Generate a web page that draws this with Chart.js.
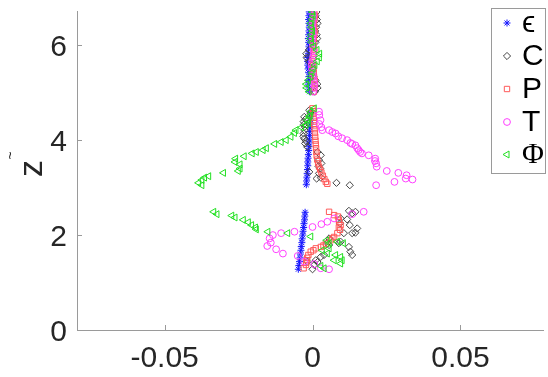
<!DOCTYPE html>
<html>
<head>
<meta charset="utf-8">
<script src="https://cdn.jsdelivr.net/npm/chart.js@4.4.1/dist/chart.umd.min.js"></script>
<style>
  html, body { margin: 0; padding: 0; background: #fff; overflow: hidden; }
  canvas { display: block; }
</style>
</head>
<body>
<canvas id="myChart" width="548" height="377"></canvas>
<script>
const xTicks = [-0.05, 0, 0.05];
const yTicks = [0, 2, 4, 6];
const seriesNames = ["\u03f5", "C", "P", "T", "\u03a6"];

// upper block: the five profiles share these heights
const zTop = [5.02, 5.10, 5.18, 5.26, 5.34, 5.42, 5.50, 5.58, 5.66, 5.74, 5.82,
              5.90, 5.98, 6.06, 6.14, 6.22, 6.30, 6.38, 6.46, 6.54, 6.62, 6.70];
const epsTop = [-0.0010, -0.0012, -0.0014, -0.0013, -0.0012, -0.0013, -0.0015, -0.0016, -0.0017, -0.0016, -0.0014,
                -0.0013, -0.0012, -0.0013, -0.0014, -0.0013, -0.0012, -0.0011, -0.0012, -0.0013, -0.0012, -0.0011];
const cTop = [0.0008, 0.0017, 0.0016, 0.0010, 0.0004, 0.0002, 0.0001, -0.0004, -0.0012, -0.0020, -0.0021,
              -0.0012, 0.0002, 0.0010, 0.0016, 0.0014, 0.0009, 0.0012, 0.0017, 0.0015, 0.0010, 0.0013];
const pTop = [0.0004, 0.0006, 0.0008, 0.0007, 0.0005, 0.0004, 0.0003, 0.0002, 0.0001, 0.0003, 0.0005,
              0.0006, 0.0004, 0.0003, 0.0004, 0.0006, 0.0007, 0.0005, 0.0004, 0.0006, 0.0008, 0.0006];
const tTop = [0.0002, 0.0005, 0.0006, 0.0004, 0.0002, 0.0000, -0.0002, -0.0003, -0.0001, 0.0002, 0.0004,
              0.0003, 0.0001, -0.0001, 0.0000, 0.0002, 0.0001, -0.0001, 0.0000, 0.0002, 0.0003, 0.0001];
const phiTop = [-0.0012, -0.0020, -0.0021, -0.0014, -0.0006, -0.0002, 0.0002, 0.0008, 0.0016, 0.0023, 0.0024,
                0.0015, 0.0004, -0.0003, -0.0007, -0.0004, 0.0000, -0.0003, -0.0006, -0.0002, 0.0002, 0.0000];

// middle and lower blocks as [value, z] pairs
const epsMid = [[-0.0005, 4.58], [-0.0006, 4.50], [-0.0006, 4.42], [-0.0008, 4.34], [-0.0009, 4.26],
  [-0.0009, 4.18], [-0.0010, 4.10], [-0.0011, 4.02], [-0.0012, 3.94], [-0.0012, 3.86], [-0.0013, 3.78],
  [-0.0014, 3.70], [-0.0015, 3.62], [-0.0016, 3.54], [-0.0016, 3.46], [-0.0017, 3.38], [-0.0018, 3.30],
  [-0.0019, 3.22], [-0.0020, 3.14], [-0.0021, 3.06]];
const epsLow = [[-0.0025, 2.48], [-0.0026, 2.40], [-0.0027, 2.32], [-0.0029, 2.24], [-0.0030, 2.16],
  [-0.0032, 2.08], [-0.0033, 2.00], [-0.0035, 1.92], [-0.0036, 1.84], [-0.0038, 1.76], [-0.0039, 1.68],
  [-0.0041, 1.60], [-0.0042, 1.52], [-0.0044, 1.44], [-0.0046, 1.36], [-0.0048, 1.28]];

const cMid = [[-0.0011, 4.63], [-0.0007, 4.57], [-0.0028, 4.49], [-0.0024, 4.44], [-0.0030, 4.39],
  [-0.0029, 4.33], [-0.0026, 4.28], [-0.0027, 4.21], [-0.0030, 4.14], [-0.0031, 4.08], [-0.0028, 4.03],
  [-0.0022, 3.98], [-0.0025, 3.93], [-0.0018, 3.86], [0.0017, 3.75], [0.0028, 3.68], [0.0022, 3.58],
  [0.0030, 3.51], [0.0020, 3.45], [0.0026, 3.40], [0.0022, 3.30], [-0.0011, 3.33], [0.0014, 3.19],
  [0.0028, 3.21], [0.0081, 3.10], [0.0126, 3.05]];
const cLow = [[0.0123, 2.51], [0.0134, 2.46], [0.0145, 2.49], [0.0095, 2.35], [0.0117, 2.33],
  [0.0093, 2.25], [0.0126, 2.21], [0.0151, 2.14], [0.0145, 2.05], [0.0134, 2.04], [0.0106, 2.04],
  [0.0056, 1.93], [0.0050, 1.83], [0.0089, 1.83], [0.0095, 1.86], [0.0056, 1.79], [0.0123, 1.75],
  [0.0128, 1.65], [0.0134, 1.58], [0.0039, 1.58], [0.0028, 1.54], [0.0011, 1.47], [0.0017, 1.43],
  [-0.0017, 1.44], [0.0006, 1.37], [0.0000, 1.28]];

const pMid = [[0.0000, 4.67], [0.0002, 4.61], [0.0003, 4.55], [0.0004, 4.47], [0.0005, 4.39],
  [0.0006, 4.31], [0.0007, 4.23], [0.0008, 4.15], [0.0009, 4.07], [0.0010, 3.99], [0.0011, 3.91],
  [0.0012, 3.83], [0.0013, 3.75], [0.0014, 3.67], [0.0016, 3.59], [0.0019, 3.51], [0.0022, 3.44],
  [0.0026, 3.38], [0.0030, 3.32], [0.0035, 3.25], [0.0040, 3.18], [0.0045, 3.12], [0.0050, 3.08]];
const pLow = [[0.0056, 2.49], [0.0073, 2.42], [0.0086, 2.39], [0.0089, 2.32], [0.0090, 2.27],
  [0.0095, 2.21], [0.0089, 2.16], [0.0093, 2.11], [0.0084, 2.04], [0.0073, 1.96], [0.0067, 1.93],
  [0.0061, 1.89], [0.0045, 1.82], [0.0037, 1.78], [0.0028, 1.75], [0.0011, 1.72], [0.0003, 1.68],
  [-0.0006, 1.65], [-0.0014, 1.58], [-0.0018, 1.52], [-0.0020, 1.47], [-0.0021, 1.42],
  [-0.0022, 1.37], [-0.0030, 1.30]];

const tMid = [[0.0022, 4.60], [0.0023, 4.53], [0.0027, 4.42], [0.0023, 4.34], [0.0030, 4.27],
  [0.0033, 4.21], [0.0056, 4.21], [0.0067, 4.17], [0.0078, 4.14], [0.0087, 4.08], [0.0100, 4.04],
  [0.0117, 4.00], [0.0128, 3.94], [0.0134, 3.92], [0.0145, 3.89], [0.0151, 3.83], [0.0156, 3.79],
  [0.0161, 3.75], [0.0167, 3.72], [0.0190, 3.68], [0.0212, 3.61], [0.0211, 3.56], [0.0215, 3.51],
  [0.0217, 3.44], [0.0251, 3.35], [0.0290, 3.31], [0.0318, 3.26], [0.0315, 3.19], [0.0338, 3.17],
  [0.0277, 3.12], [0.0215, 3.05]];
const tLow = [[0.0173, 2.49], [0.0134, 2.44], [0.0073, 2.35], [0.0050, 2.28], [0.0030, 2.23],
  [0.0000, 2.17], [-0.0061, 2.07], [-0.0106, 2.04], [-0.0134, 2.00], [-0.0145, 1.93], [-0.0141, 1.84],
  [-0.0153, 1.77], [-0.0123, 1.70], [-0.0100, 1.61], [-0.0050, 1.56], [-0.0028, 1.44], [0.0006, 1.39],
  [0.0028, 1.30], [0.0056, 1.28]];

const phiMid = [[0.0006, 4.67], [-0.0006, 4.60], [-0.0008, 4.52], [-0.0011, 4.49], [-0.0017, 4.42],
  [-0.0014, 4.36], [-0.0022, 4.32], [-0.0037, 4.27], [-0.0056, 4.21], [-0.0061, 4.15], [-0.0073, 4.07],
  [-0.0089, 4.00], [-0.0106, 3.96], [-0.0128, 3.92], [-0.0156, 3.83], [-0.0167, 3.79], [-0.0190, 3.75],
  [-0.0204, 3.72], [-0.0231, 3.66], [-0.0260, 3.61], [-0.0262, 3.54], [-0.0245, 3.49], [-0.0245, 3.40],
  [-0.0251, 3.35], [-0.0301, 3.31], [-0.0351, 3.24], [-0.0365, 3.21], [-0.0374, 3.16], [-0.0385, 3.10],
  [-0.0374, 3.05]];
const phiLow = [[-0.0334, 2.49], [-0.0323, 2.44], [-0.0273, 2.41], [-0.0262, 2.37], [-0.0234, 2.32],
  [-0.0217, 2.27], [-0.0206, 2.21], [-0.0193, 2.16], [-0.0190, 2.12], [-0.0151, 2.07], [-0.0084, 2.04],
  [-0.0006, 1.97], [0.0048, 1.89], [0.0084, 1.86], [0.0056, 1.83], [0.0104, 1.83], [0.0056, 1.72],
  [0.0033, 1.68], [0.0050, 1.61], [0.0078, 1.58], [0.0095, 1.54], [0.0100, 1.47], [0.0073, 1.47],
  [0.0095, 1.40], [0.0028, 1.35], [0.0039, 1.30]];

const toPts = (xs, zs) => xs.map((x, i) => ({ x: x, y: zs[i] }));
const pairs = arr => arr.map(p => ({ x: p[0], y: p[1] }));

const styles = [
  { pointStyle: "star", radius: 3.5, rotation: 0, color: "#1515ff" },
  { pointStyle: "rectRot", radius: 3.6, rotation: 0, color: "#444444" },
  { pointStyle: "rect", radius: 3.8, rotation: 0, color: "#ff5a5a" },
  { pointStyle: "circle", radius: 3.4, rotation: 0, color: "#ff40ff" },
  { pointStyle: "triangle", radius: 4, rotation: -90, color: "#22e022" },
];

const seriesData = [
  toPts(epsTop, zTop).concat(pairs(epsMid), pairs(epsLow)),
  toPts(cTop, zTop).concat(pairs(cMid), pairs(cLow)),
  toPts(pTop, zTop).concat(pairs(pMid), pairs(pLow)),
  toPts(tTop, zTop).concat(pairs(tMid), pairs(tLow)),
  toPts(phiTop, zTop).concat(pairs(phiMid), pairs(phiLow)),
];

const datasets = seriesData.map((d, i) => ({
  label: seriesNames[i],
  data: d,
  showLine: false,
  order: 5 - i,
  pointStyle: styles[i].pointStyle,
  pointRadius: styles[i].radius,
  pointRotation: styles[i].rotation,
  pointBorderColor: styles[i].color,
  pointBackgroundColor: "rgba(0,0,0,0)",
  pointBorderWidth: 1,
}));

const axisGray = "#9a9a9a";
const textColor = "#262626";
const tickFont = { family: "'Liberation Sans', Arial, sans-serif", size: 30 };

// keep the plot box fixed: no extra room for the end labels
function fixBox(scale, size) {
  if (scale.isHorizontal()) scale.height = size;
  else scale.width = size;
  scale.paddingTop = 0;
  scale.paddingBottom = 0;
  scale.paddingLeft = 0;
  scale.paddingRight = 0;
}

// inward tick marks, the rotated z label and the boxed legend
const decorations = {
  id: "decorations",
  afterDraw(chart) {
    const ctx = chart.ctx;
    const area = chart.chartArea;
    const xs = chart.scales.x;
    const ys = chart.scales.y;
    ctx.save();
    ctx.strokeStyle = axisGray;
    ctx.lineWidth = 1;
    ctx.beginPath();
    xTicks.forEach(v => {
      const px = Math.round(xs.getPixelForValue(v)) + 0.5;
      ctx.moveTo(px, area.bottom);
      ctx.lineTo(px, area.bottom - 5);
    });
    yTicks.forEach(v => {
      const py = Math.round(ys.getPixelForValue(v)) + 0.5;
      ctx.moveTo(area.left, py);
      ctx.lineTo(area.left + 5, py);
    });
    ctx.stroke();

    // axis title: z with a tilde, turned on its side
    ctx.save();
    ctx.translate(42, 168.5);
    ctx.rotate(-Math.PI / 2);
    ctx.fillStyle = textColor;
    ctx.font = "34px 'Liberation Sans', Arial, sans-serif";
    ctx.textAlign = "center";
    ctx.textBaseline = "alphabetic";
    ctx.fillText("z", 0, 0);
    ctx.font = "14px 'Liberation Sans', Arial, sans-serif";
    ctx.textBaseline = "middle";
    ctx.fillText("~", 13, -31);
    ctx.restore();

    // legend
    const box = { left: 491.5, top: 8.5, width: 54, height: 165 };
    ctx.fillStyle = "#ffffff";
    ctx.fillRect(box.left, box.top, box.width, box.height);
    ctx.strokeStyle = axisGray;
    ctx.strokeRect(box.left, box.top, box.width, box.height);
    const rows = [23, 56, 89, 122, 154.5];
    seriesNames.forEach((name, i) => {
      const s = styles[i];
      ctx.strokeStyle = s.color;
      ctx.fillStyle = "rgba(0,0,0,0)";
      ctx.lineWidth = 1;
      Chart.helpers.drawPoint(ctx, {
        pointStyle: s.pointStyle, radius: s.radius, rotation: s.rotation, borderWidth: 1,
      }, 507, rows[i]);
      ctx.fillStyle = "#000000";
      ctx.textAlign = "left";
      ctx.textBaseline = "middle";
      ctx.font = i === 4 ? "30px 'Liberation Serif', serif" : "30px 'Liberation Sans', 'DejaVu Sans', sans-serif";
      ctx.fillText(name, 522, rows[i] + 1);
    });
    ctx.restore();
  },
};

const config = {
  type: "scatter",
  data: { datasets: datasets },
  options: {
    responsive: false,
    animation: false,
    devicePixelRatio: 1,
    layout: { padding: { top: 11, left: 0, right: 0, bottom: 0 } },
    scales: {
      x: {
        type: "linear",
        min: -0.0796,
        max: 0.0779,
        afterFit: s => fixBox(s, 47),
        afterBuildTicks: s => { s.ticks = xTicks.map(v => ({ value: v })); },
        grid: { display: false, drawTicks: false },
        border: { display: true, color: axisGray, width: 1 },
        ticks: {
          padding: 11,
          color: textColor,
          font: tickFont,
          maxRotation: 0,
          callback: v => String(v),
        },
      },
      y: {
        type: "linear",
        min: 0,
        max: 6.72,
        afterFit: s => fixBox(s, 77),
        afterBuildTicks: s => { s.ticks = yTicks.map(v => ({ value: v })); },
        grid: { display: false, drawTicks: false },
        border: { display: true, color: axisGray, width: 1 },
        ticks: {
          padding: 10,
          labelOffset: 3,
          color: textColor,
          font: tickFont,
          callback: v => String(v),
        },
      },
    },
    plugins: {
      legend: { display: false },
      tooltip: { enabled: false },
    },
  },
  plugins: [decorations],
};

const myChart = new Chart(document.getElementById("myChart"), config);
</script>
</body>
</html>
